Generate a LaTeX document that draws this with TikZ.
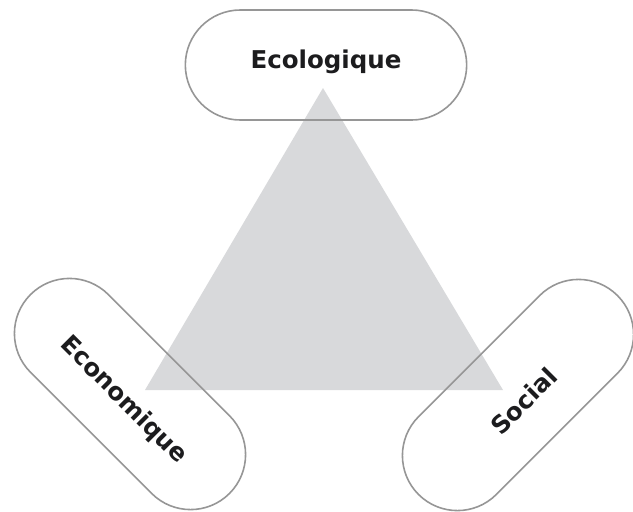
\documentclass[tikz,border=0pt]{standalone}
\usepackage{fontspec}
\setmainfont{DejaVu Sans}
\usetikzlibrary{shapes.misc}
\definecolor{pillarline}{RGB}{150,150,150}
\definecolor{trianglefill}{RGB}{216,217,219}
\definecolor{pillartext}{RGB}{28,28,30}
\tikzset{
  pillar/.style={% one of the three pillars
    rounded rectangle, draw=pillarline, line width=1.6pt,
    minimum width=288pt, minimum height=110pt,
    font=\bfseries\fontsize{24.5}{28}\selectfont, text=pillartext
  }
}

\begin{document}
\begin{tikzpicture}[x=1pt, y=-1pt]
  \useasboundingbox (0, 0) rectangle (633, 512);
  % the triangle
  \coordinate (top) at (323, 88);
  \coordinate (left) at (145, 390);
  \coordinate (right) at (503, 390);
  \fill[trianglefill] (top) -- (left) -- (right) -- cycle;
  % the pillars
  \node[pillar, text height=17pt, text depth=11pt] (ecolo) at (326, 65) {Ecologique};
  \node[pillar, rotate=-45, text height=32pt, text depth=0pt] (econo) at (130, 394) {Economique};
  \node[pillar, rotate=45, text height=35pt, text depth=0pt] (social) at (518, 395) {Social};
\end{tikzpicture}
\end{document}
